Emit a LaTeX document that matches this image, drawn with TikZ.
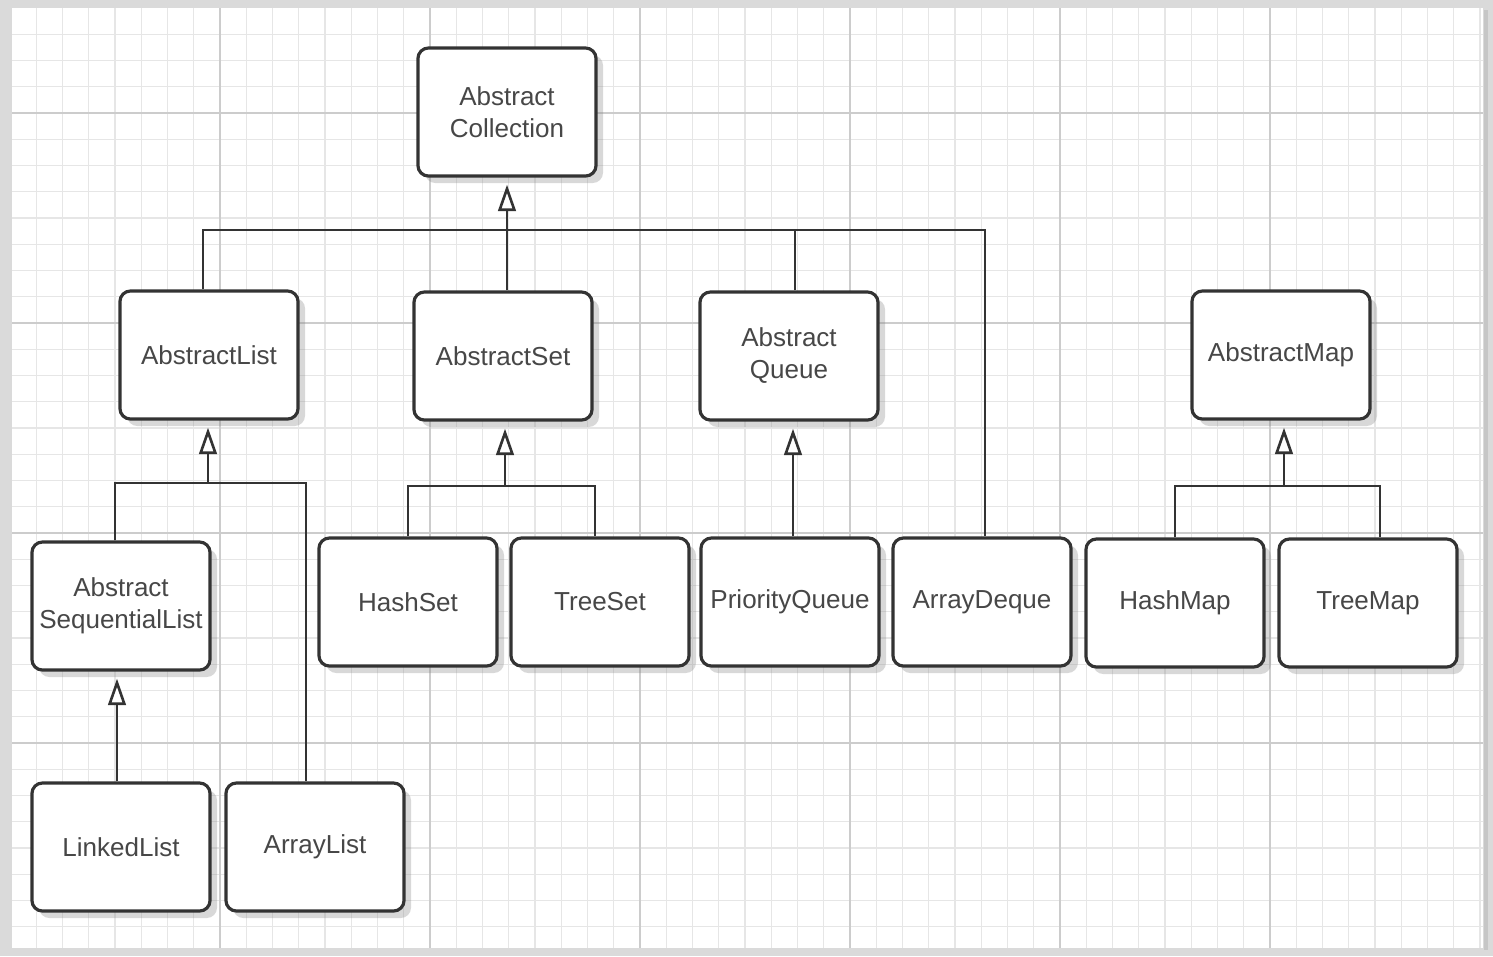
\documentclass[tikz,border=0pt]{standalone}
\usepackage{fontspec}
\setmainfont{Liberation Sans}
\usepackage{xcolor}
\definecolor{ink}{HTML}{333333}
\definecolor{gridminor}{HTML}{E6E6E6}
\definecolor{gridmajor}{HTML}{CCCCCC}
\definecolor{paper}{HTML}{DADADA}
\usetikzlibrary{arrows.meta, shadows, calc}

\begin{document}
\begin{tikzpicture}[
  x=0.01cm, y=-0.01cm,
  cls/.style={draw=ink, fill=white, line width=0.9pt, rounded corners=3pt,
    minimum width=1.78cm, minimum height=1.28cm, inner sep=1pt, align=center,
    font=\fontsize{7.4}{9.1}\selectfont, text=ink!90,
    drop shadow={shadow xshift=2pt, shadow yshift=-2pt, opacity=0.3}},
  link/.style={draw=ink, line width=0.75pt},
  inherit/.style={link, -{Triangle[fill=white, length=7.5pt, width=5pt]}, shorten >=2pt},
  minor/.style={gridminor, line width=0.4pt},
  major/.style={gridmajor, line width=0.6pt}
]
  \useasboundingbox (0,0) rectangle (1493,956);

  % graph paper
  \fill[paper] (0,0) rectangle (1493,956);
  \fill[white] (12,8) rectangle (1483,948);
  \foreach \i in {1,...,56} \draw[minor] ({10+26.25*\i},8) -- ({10+26.25*\i},948);
  \foreach \j in {1,...,35} \draw[minor] (12,{8+26.25*\j}) -- (1483,{8+26.25*\j});
  \foreach \i in {1,...,6} \draw[major] ({10+210*\i},8) -- ({10+210*\i},948);
  \foreach \j in {0,...,3} \draw[major] (12,{113+210*\j}) -- (1483,{113+210*\j});
  \draw[gray!45, line width=1.2pt] (1486,10) -- (1486,950);

  % classes
  \node[cls] (coll) at (507,112) {Abstract\\Collection};
  \node[cls] (alist) at (209,355) {AbstractList};
  \node[cls] (aset) at (503,356) {AbstractSet};
  \node[cls] (aqueue) at (789,356) {Abstract\\Queue};
  \node[cls] (amap) at (1281,355) {AbstractMap};
  \node[cls] (aseqlist) at (121,606) {Abstract\\SequentialList};
  \node[cls] (hashset) at (408,602) {HashSet};
  \node[cls] (treeset) at (600,602) {TreeSet};
  \node[cls] (pqueue) at (790,602) {PriorityQueue};
  \node[cls] (deque) at (982,602) {ArrayDeque};
  \node[cls] (hashmap) at (1175,603) {HashMap};
  \node[cls] (treemap) at (1368,603) {TreeMap};
  \node[cls] (linkedlist) at (121,847) {LinkedList};
  \node[cls] (arraylist) at (315,847) {ArrayList};

  % inheritance
  \coordinate (topbus) at (507,230);
  \coordinate (listbus) at (208,483);
  \coordinate (setbus) at (505,486);
  \coordinate (mapbus) at (1284,486);

  \draw[link] ($(alist.north)+(-6,0)$) |- (topbus) -| ($(deque.north)+(3,0)$);
  \draw[link] ($(aqueue.north)+(6,0)$) -- ($(aqueue.north |- topbus)+(6,0)$);
  \draw[inherit] (topbus |- aset.north) -- (coll.south);

  \draw[link] ($(aseqlist.north)+(-6,0)$) |- (listbus) -| ($(arraylist.north)+(-9,0)$);
  \draw[inherit] (listbus) -- (listbus |- alist.south);
  \draw[link] (hashset.north) |- (setbus) -| ($(treeset.north)+(-5,0)$);
  \draw[inherit] (setbus) -- (setbus |- aset.south);
  \draw[inherit] ($(pqueue.north)+(3,0)$) -- ($(pqueue.north |- aqueue.south)+(3,0)$);
  \draw[link] (hashmap.north) |- (mapbus) -| ($(treemap.north)+(12,0)$);
  \draw[inherit] (mapbus) -- (mapbus |- amap.south);
  \draw[inherit] ($(linkedlist.north)+(-4,0)$) -- ($(linkedlist.north |- aseqlist.south)+(-4,0)$);
\end{tikzpicture}
\end{document}
